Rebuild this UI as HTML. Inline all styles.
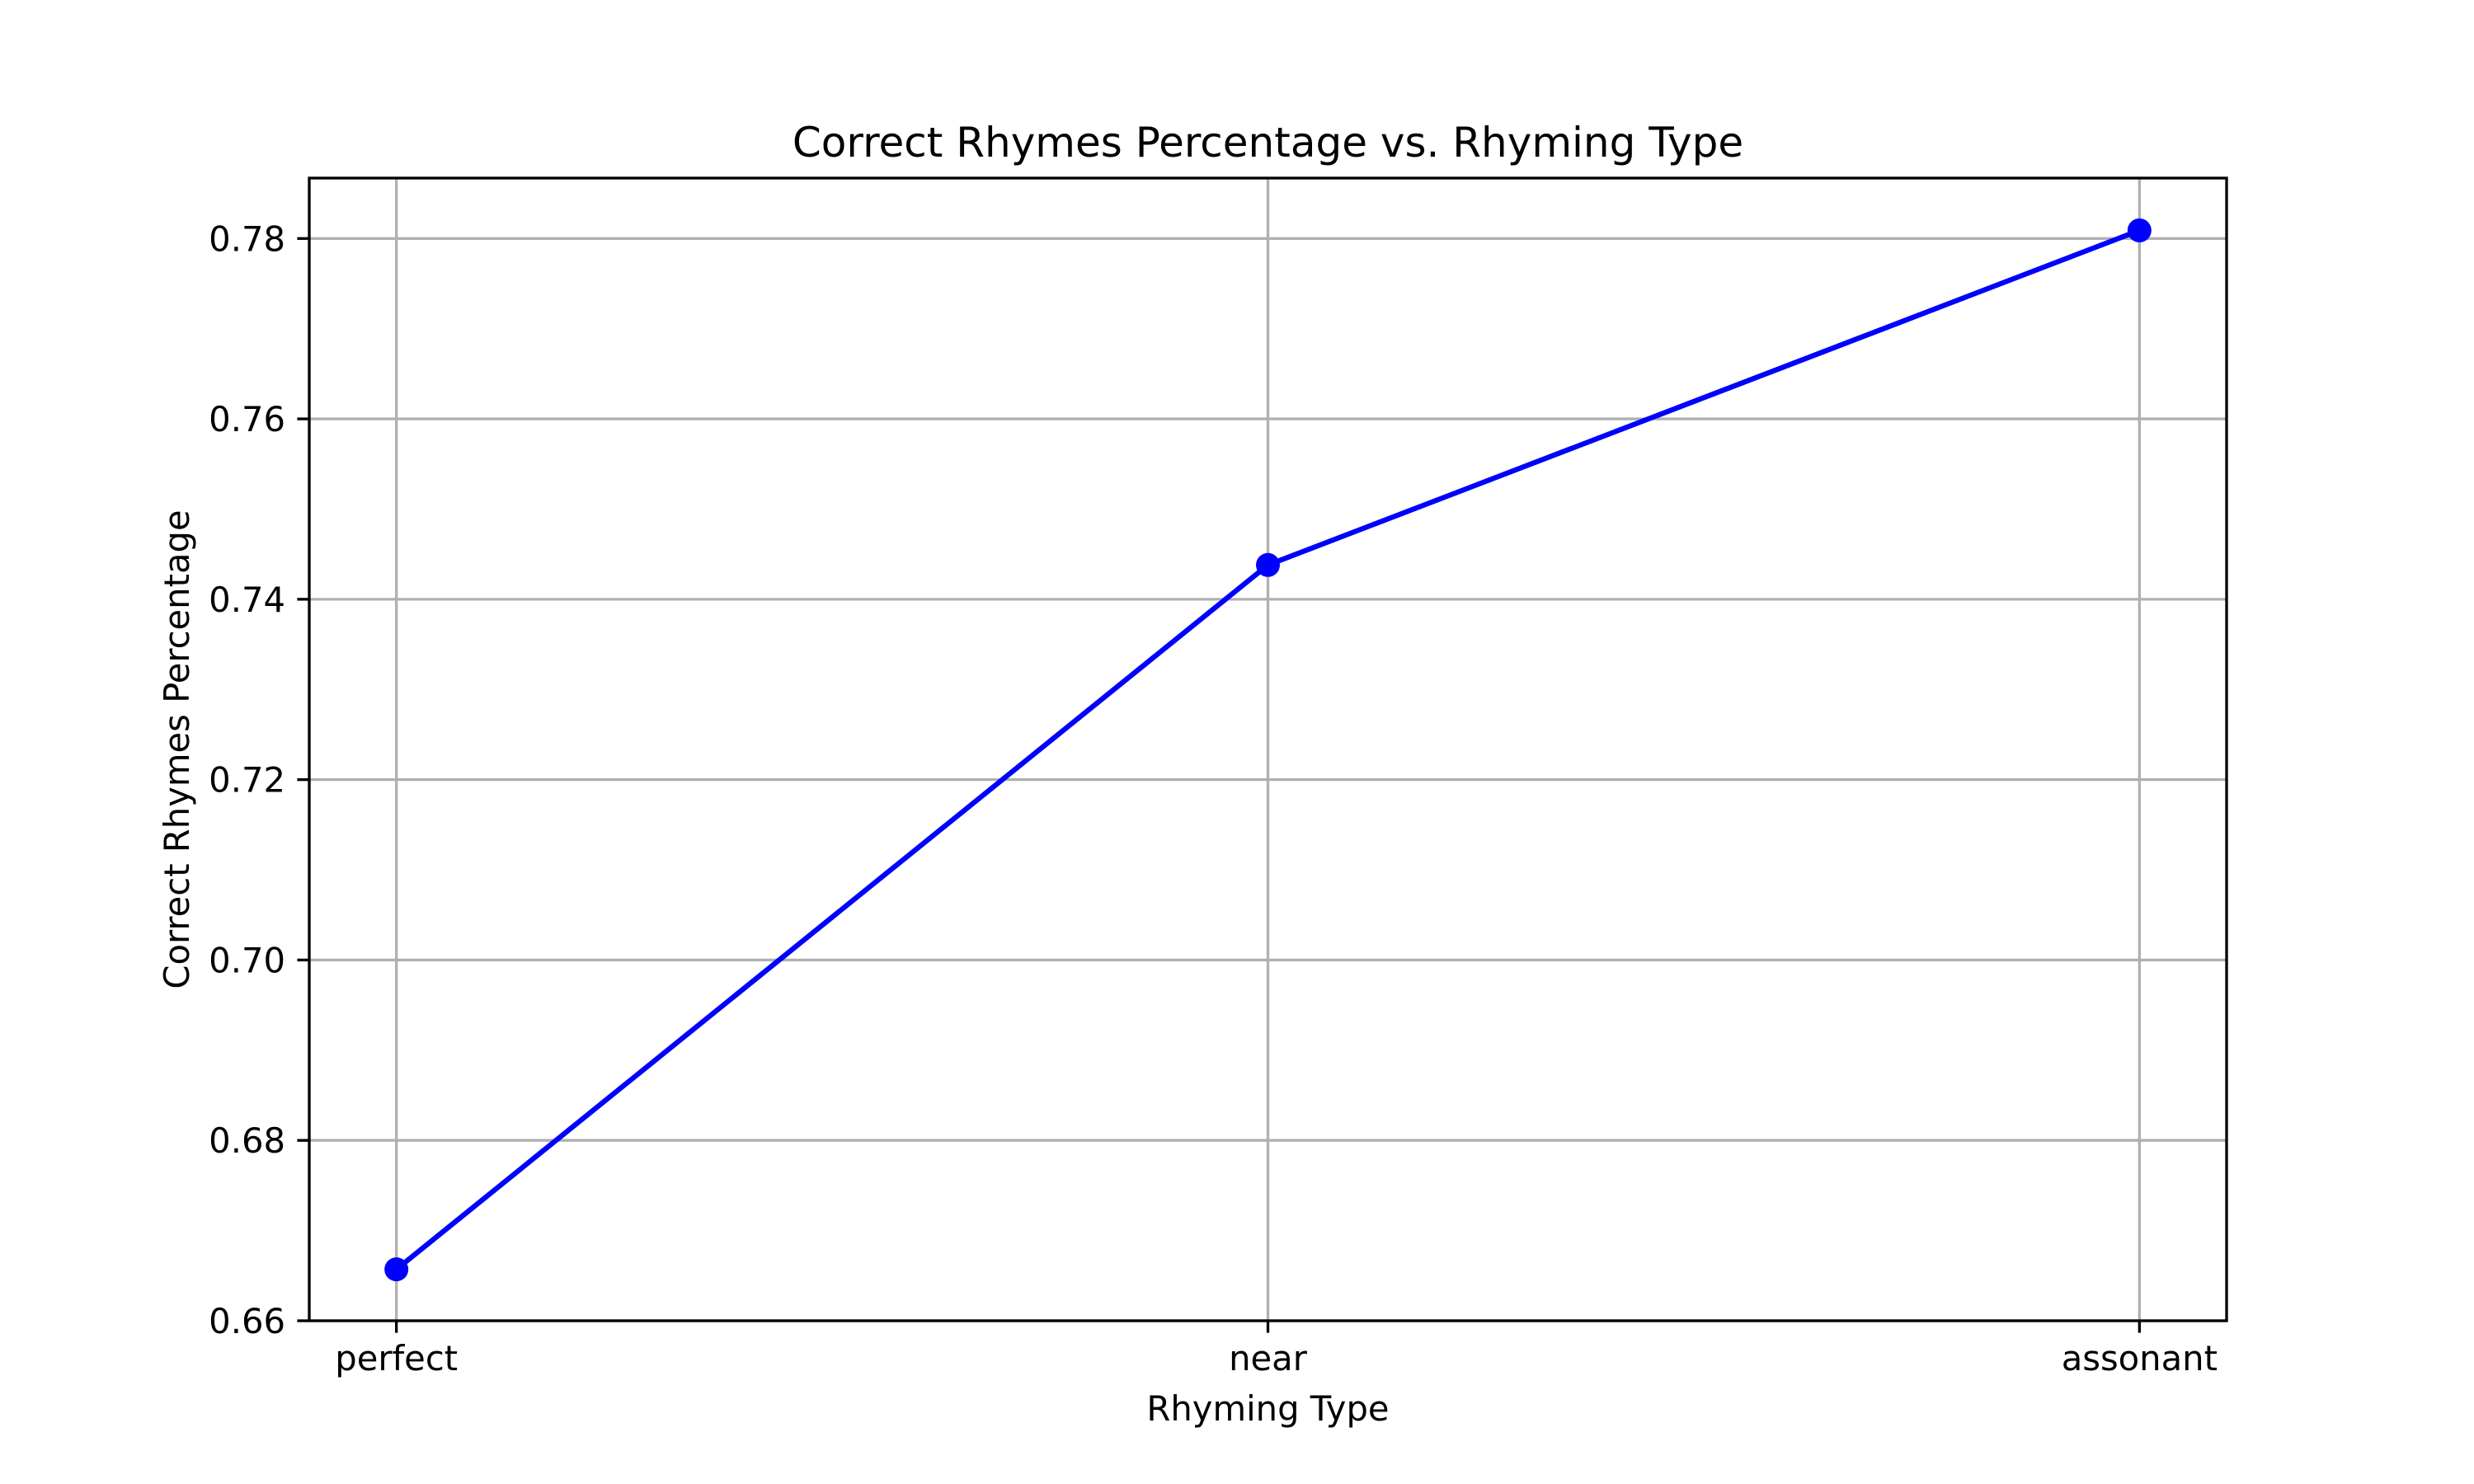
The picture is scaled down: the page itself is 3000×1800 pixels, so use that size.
<!DOCTYPE html>
<html><head><meta charset="utf-8"><style>html,body{margin:0;padding:0;background:#fff}svg{display:block}text{font-family:"DejaVu Sans","Liberation Sans",sans-serif;fill:#000}</style></head>
<body>
<svg id="chart" width="3000" height="1800" viewBox="0 0 3000 1800">
<rect width="3000" height="1800" fill="#fff"/>
<g id="grid"></g>
<g id="series"></g>
<rect x="375" y="216" width="2325" height="1386" fill="none" stroke="#000" stroke-width="3.33"/>
<g id="ticks"></g>
<text x="1537.5" y="190" font-size="50" text-anchor="middle">Correct Rhymes Percentage vs. Rhyming Type</text>
<text x="1537.5" y="1723" font-size="41.7" text-anchor="middle">Rhyming Type</text>
<text transform="translate(229,909) rotate(-90)" font-size="41.7" text-anchor="middle">Correct Rhymes Percentage</text>
</svg>
<script>
const categories = ["perfect", "near", "assonant"];
const values = [0.6657, 0.7438, 0.7809];
const yTicks = [0.66, 0.68, 0.70, 0.72, 0.74, 0.76, 0.78];
const yTickLabels = ["0.66", "0.68", "0.70", "0.72", "0.74", "0.76", "0.78"];

const L = 375, R = 2700, T = 216, B = 1602;
const yMin = 0.66, yMax = 0.7867;
const n = categories.length;
const xPad = (n - 1) * 0.05;
function xs(i) { return L + (i + xPad) / (n - 1 + 2 * xPad) * (R - L); }
function ys(v) { return B - (v - yMin) / (yMax - yMin) * (B - T); }
const NS = "http://www.w3.org/2000/svg";
function mk(tag, attrs, parent) { const e = document.createElementNS(NS, tag); for (const k in attrs) e.setAttribute(k, attrs[k]); parent.appendChild(e); return e; }
const grid = document.getElementById('grid'), ticks = document.getElementById('ticks'), series = document.getElementById('series');

categories.forEach((c, i) => {
  const x = xs(i);
  const g = mk('line', {x1: x, x2: x, y1: T, y2: B, stroke: '#b0b0b0', 'stroke-width': 3.33}, grid);
  
  
  const t = mk('line', {x1: x, x2: x, y1: B, y2: B + 14.6, stroke: '#000', 'stroke-width': 3.33}, ticks);
  
  
  const lb = mk('text', {x: x, y: B + 29 + 31, 'font-size': 41.7, 'text-anchor': 'middle'}, ticks);
  lb.textContent = c;
  
  
});
yTicks.forEach((v, i) => {
  const y = ys(v);
  const g = mk('line', {x1: L, x2: R, y1: y, y2: y, stroke: '#b0b0b0', 'stroke-width': 3.33}, grid);
  
  
  const t = mk('line', {x1: L - 14.6, x2: L, y1: y, y2: y, stroke: '#000', 'stroke-width': 3.33}, ticks);
  
  
  const lb = mk('text', {x: L - 29, y: y + 15, 'font-size': 41.7, 'text-anchor': 'end'}, ticks);
  lb.textContent = yTickLabels[i];
  
  
});
const pts = values.map((v, i) => xs(i) + ',' + ys(v)).join(' ');
const pl = mk('polyline', {points: pts, fill: 'none', stroke: '#0000ff', 'stroke-width': 6.25, 'stroke-linejoin': 'round'}, series);


values.forEach((v, i) => {
  const c = mk('circle', {cx: xs(i), cy: ys(v), r: 14.5, fill: '#0000ff'}, series);
  
  
});
</script>
</body></html>
